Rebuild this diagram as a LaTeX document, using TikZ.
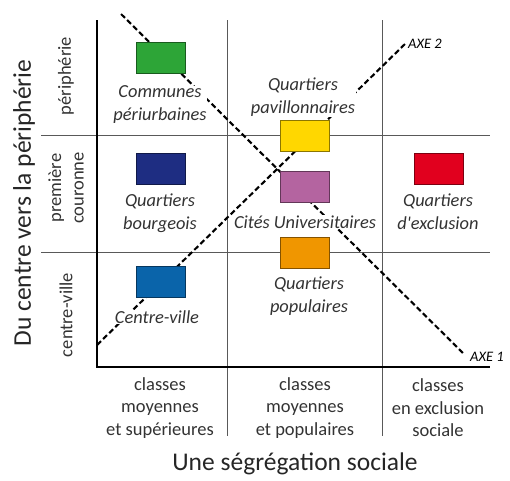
\documentclass[tikz,border=0pt]{standalone}
\usepackage{fontspec}
\setmainfont{Carlito}[Ligatures=TeXOff]
\definecolor{vert}{RGB}{45,165,55}
\definecolor{marine}{RGB}{30,45,130}
\definecolor{bleu}{RGB}{10,100,170}
\definecolor{jaune}{RGB}{255,215,0}
\definecolor{mauve}{RGB}{180,100,160}
\definecolor{orange}{RGB}{240,150,0}
\definecolor{rouge}{RGB}{225,0,30}
\tikzset{
    zone/.style={draw=#1!55!black, fill=#1, minimum width=49pt, minimum height=31pt, inner sep=0pt, line width=0.7pt},
    quartier/.style={font=\fontsize{18.4}{23}\selectfont\itshape, text=black!80, fill=white, inner sep=0.5pt, align=center},
    classe/.style={font=\fontsize{18.5}{22.5}\selectfont, text=black!80, align=center},
    titre/.style={font=\fontsize{25.5}{30}\selectfont, text=black!85},
    axe/.style={line width=2.1pt, dash pattern=on 5.5pt off 3pt},
    axelabel/.style={font=\fontsize{14.5}{17}\selectfont\itshape, anchor=west, inner sep=1pt},
    grille/.style={draw=black!65, line width=0.9pt},
    repere/.style={line width=2.4pt}
}
\begin{document}
\begin{tikzpicture}[x=1pt,y=-1pt]
                \useasboundingbox (0,0) rectangle (510,480);
                % grille
                \draw [grille] (41,135) -- (490,135);
                \draw [grille] (41,252) -- (490,252);
                \draw [grille] (227,20) -- (227,436);
                \draw [grille] (382,20) -- (382,436);
                \draw [repere] (97,20) -- (97,367) -- (490,367);
                % axes
                \coordinate (axe1a) at (121,14);
                \coordinate (axe1b) at (465,355);
                \coordinate (axe2a) at (97,345);
                \coordinate (axe2b) at (405,44);
                \draw [axe] (axe1a) -- (axe1b);
                \draw [axe] (axe2a) -- (axe2b);
                \node [axelabel] (axe1) at (469,357) {AXE 1};
                \node [axelabel] (axe2) at (407,44) {AXE 2};
                % quartiers
                \node [zone=vert] (periurb) at (160.5,58) {};
                \node [zone=marine] (bourg) at (160.5,169) {};
                \node [zone=bleu] (centre) at (160.5,282) {};
                \node [zone=jaune] (pavil) at (304.5,136) {};
                \node [zone=mauve] (cites) at (304.5,186.5) {};
                \node [zone=orange] (popu) at (304.5,253) {};
                \node [zone=rouge] (exclu) at (439,169) {};
                \node [quartier] (periurbtxt) at (160,105) {Communes\\périurbaines};
                \node [quartier] (bourgtxt) at (160,213) {Quartiers\\bourgeois};
                \node [quartier] (centretxt) at (157,317) {Centre-ville};
                \node [quartier] (paviltxt) at (303,97) {Quartiers\\pavillonnaires};
                \node [quartier] (citestxt) at (305,222) {Cités Universitaires};
                \node [quartier] (poputxt) at (309,296) {Quartiers\\populaires};
                \node [quartier] (exclutxt) at (438,212) {Quartiers\\d'exclusion};
                % legendes
                \node [classe, rotate=90] (peri) at (66,76) {périphérie};
                \node [classe, rotate=90] (couronne) at (66,188) {première\\couronne};
                \node [classe, rotate=90] (ville) at (66,315) {centre-ville};
                \node [classe] (sup) at (160,408) {classes\\moyennes\\et supérieures};
                \node [classe] (pop) at (305,408) {classes\\moyennes\\et populaires};
                \node [classe] (excl) at (438,408) {classes\\en exclusion\\sociale};
                \node [titre] (segreg) at (295,464) {Une ségrégation sociale};
                \node [titre, rotate=90] (centreperi) at (24,203) {Du centre vers la périphérie};
      \end{tikzpicture}
\end{document}
